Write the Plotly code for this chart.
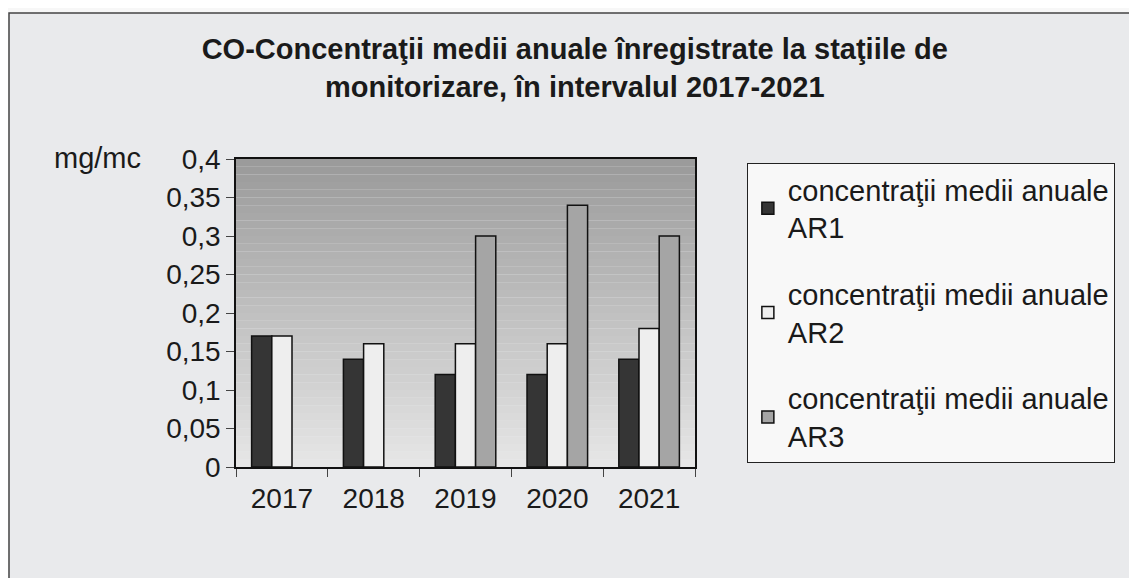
import plotly.graph_objects as go

years = ["2017", "2018", "2019", "2020", "2021"]
ar1 = [0.17, 0.14, 0.12, 0.12, 0.14]
ar2 = [0.17, 0.16, 0.16, 0.16, 0.18]
ar3 = [None, None, 0.30, 0.34, 0.30]
names = ["concentraţii medii anuale<br>AR1", "concentraţii medii anuale<br>AR2", "concentraţii medii anuale<br>AR3"]
colors = ["#353535", "#eeeeee", "#a5a5a5"]

fig = go.Figure()
for i, (vals, nm, c) in enumerate(zip([ar1, ar2, ar3], names, colors)):
    fig.add_trace(go.Bar(x=years, y=vals, name=nm, legendgroup=str(i),
                         marker=dict(color=c, line=dict(color="#111111", width=1.5))))

W, H = 1129, 570
L, R, T, B = 228, 442, 151, 111
pw, ph = W - L - R, H - T - B

shapes = []
# outer chart frame
shapes.append(dict(type="rect", xref="paper", yref="paper",
                   x0=(1 - L) / pw, x1=(W + 20 - L) / pw,
                   y0=-(B + 20) / ph, y1=(H - 5 - B) / ph,
                   line=dict(color="#444444", width=1.5), fillcolor="#e9eaec", layer="below"))
# gradient background of plot area
n = 40
for k in range(n):
    t = k / (n - 1)
    g = int(155 + (230 - 155) * t)
    shapes.append(dict(type="rect", xref="x domain", yref="y domain", x0=0, x1=1,
                       y0=1 - (k + 1) / n, y1=1 - k / n, fillcolor=f"rgb({g},{g},{g})",
                       line=dict(width=0), layer="below"))

fig.update_layout(
    width=W, height=H,
    margin=dict(l=L, r=R, t=T, b=B),
    paper_bgcolor="#f7f7f7",
    plot_bgcolor="rgba(0,0,0,0)",
    separators=",.",
    barmode="group", bargap=0.34, bargroupgap=0,
    font=dict(family="Liberation Sans, Arial, sans-serif", color="#1a1a1a"),
    title=dict(text="<b>CO-Concentraţii medii anuale înregistrate la staţiile de<br>monitorizare, în intervalul 2017-2021</b>",
               x=0.502, xanchor="center", y=0.91, yanchor="middle", font=dict(size=29)),
    showlegend=True,
    legend=dict(x=1.113, y=0.987, xanchor="left", yanchor="top", bgcolor="#f8f8f8",
                bordercolor="#222222", borderwidth=1, font=dict(size=29),
                tracegroupgap=26, traceorder="grouped", itemwidth=30),
    shapes=shapes,
    annotations=[dict(text="mg/mc", xref="paper", yref="paper", x=-0.401, y=1.003,
                      xanchor="left", yanchor="middle", showarrow=False, font=dict(size=29))],
)
fig.update_yaxes(range=[0, 0.4], dtick=0.05, showgrid=False, ticks="outside", ticklen=8,
                 showline=True, linecolor="#111111", linewidth=1.5, mirror=True,
                 tickfont=dict(size=28), zeroline=False)
fig.update_xaxes(showgrid=False, ticks="outside", ticklen=8, tickson="boundaries",
                 showline=True, linecolor="#111111", linewidth=1.5, mirror=True,
                 tickfont=dict(size=28), ticklabelstandoff=6)

fig.write_html("out.html")
